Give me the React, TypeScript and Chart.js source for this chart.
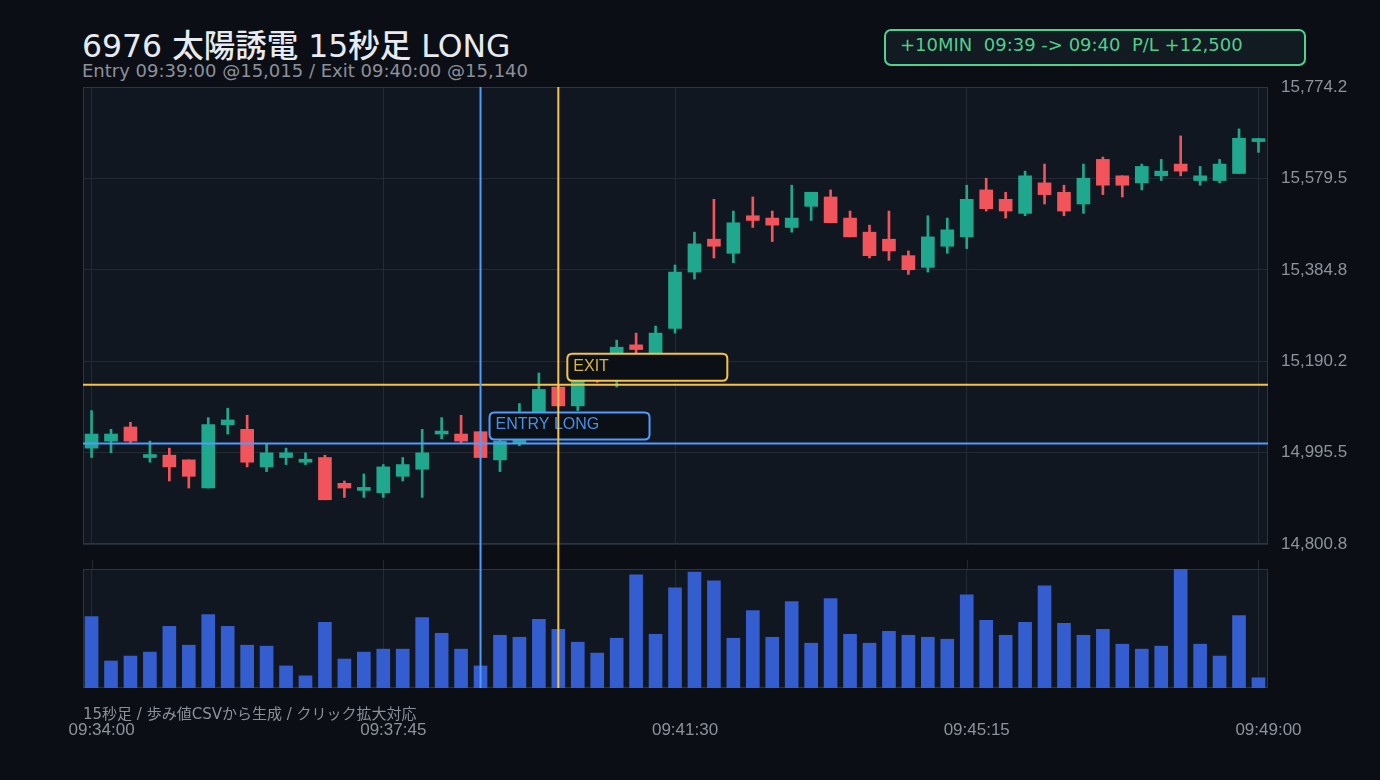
import React, { useEffect, useRef } from "react";
import { Chart, registerables } from "chart.js";

Chart.register(...registerables);

// ---------- data ----------
const TIME_LABELS = ["09:34:00", "09:37:45", "09:41:30", "09:45:15", "09:49:00"];
const TIME_TICK_INDEX = [0, 15, 30, 45, 60];

const OPEN = [
  15005, 15020, 15050, 14985, 14990, 14980, 14920, 15055, 15045, 14965,
  14985, 14975, 14985, 14930, 14915, 14910, 14945, 14960, 15035, 15035,
  15040, 14980, 15015, 15080, 15135, 15095, 15165, 15205, 15225, 15205,
  15260, 15380, 15450, 15420, 15500, 15495, 15475, 15520, 15540, 15495,
  15465, 15450, 15415, 15390, 15435, 15455, 15555, 15535, 15505, 15570,
  15550, 15525, 15620, 15585, 15570, 15585, 15610, 15575, 15575, 15590,
  15658,
];
const HIGH = [
  15085, 15045, 15060, 15020, 15005, 14980, 15070, 15090, 15075, 15015,
  15005, 14995, 14990, 14935, 14950, 14970, 14985, 15045, 15070, 15075,
  15040, 15030, 15100, 15165, 15140, 15165, 15185, 15235, 15250, 15265,
  15395, 15465, 15535, 15510, 15540, 15510, 15565, 15550, 15555, 15510,
  15480, 15510, 15425, 15500, 15495, 15565, 15580, 15550, 15595, 15610,
  15565, 15610, 15625, 15585, 15610, 15620, 15670, 15605, 15620, 15685,
  15665,
];
const LOW = [
  14985, 14995, 15015, 14975, 14935, 14920, 14920, 15035, 14965, 14955,
  14970, 14970, 14895, 14900, 14900, 14900, 14935, 14900, 15025, 15015,
  14985, 14955, 15010, 15075, 15095, 15085, 15145, 15135, 15205, 15200,
  15250, 15365, 15410, 15400, 15475, 15445, 15465, 15490, 15485, 15455,
  15410, 15405, 15375, 15380, 15420, 15430, 15510, 15495, 15500, 15525,
  15500, 15505, 15545, 15540, 15555, 15575, 15585, 15565, 15570, 15590,
  15635,
];
const CLOSE = [
  15035, 15035, 15020, 14990, 14965, 14945, 15055, 15065, 14975, 14995,
  14995, 14980, 14895, 14920, 14920, 14965, 14970, 14995, 15040, 15020,
  14985, 15020, 15070, 15130, 15095, 15150, 15155, 15220, 15215, 15250,
  15380, 15440, 15435, 15485, 15490, 15480, 15495, 15550, 15485, 15455,
  15415, 15425, 15385, 15455, 15470, 15535, 15515, 15510, 15585, 15545,
  15510, 15580, 15565, 15565, 15605, 15595, 15595, 15585, 15610, 15665,
  15664,
];
const VOLUME = [
  7230, 2730, 3230, 3630, 6230, 4330, 7430, 6230, 4330, 4230,
  2230, 1230, 6630, 2930, 3630, 3930, 3930, 7130, 5530, 3930,
  2230, 5330, 5130, 6930, 5930, 4630, 3530, 5030, 11430, 5430,
  10130, 11730, 10830, 5030, 7830, 5130, 8730, 4530, 9030, 5430,
  4530, 5730, 5330, 5130, 4930, 9430, 6830, 5330, 6630, 10330,
  6530, 5330, 5930, 4430, 3930, 4230, 12030, 4430, 3230, 7330,
  1030,
];
const PRICE_TICKS = [14800.8, 14995.5, 15190.2, 15384.8, 15579.5, 15774.2];

const ENTRY_INDEX = 20;
const ENTRY_PRICE = 15015;
const EXIT_INDEX = 24;
const EXIT_PRICE = 15140;

// ---------- styles ----------
const PAGE_BG = "#0b0e14";
const PLOT_BG = "#111720";
const GRID = "#232a34";
const BORDER = "#2d343f";
const GREEN = "#1fa88e";
const RED = "#f2545b";
const VOL_COLOR = "#345ecf";
const BLUE = "#4f9cff";
const YELLOW = "#f6c445";
const TICK_COLOR = "#8d939c";
const X_MIN = -0.44;
const X_MAX = 60.49;
const TICK_FONT = { family: "'Helvetica Neue', Helvetica, Arial, sans-serif", size: 17 };

const fmtPrice = (v: number) =>
  v.toLocaleString("en-US", { minimumFractionDigits: 1, maximumFractionDigits: 1 });

function roundRect(ctx: CanvasRenderingContext2D, x: number, y: number, w: number, h: number, r: number) {
  ctx.beginPath();
  ctx.moveTo(x + r, y);
  ctx.lineTo(x + w - r, y);
  ctx.quadraticCurveTo(x + w, y, x + w, y + r);
  ctx.lineTo(x + w, y + h - r);
  ctx.quadraticCurveTo(x + w, y + h, x + w - r, y + h);
  ctx.lineTo(x + r, y + h);
  ctx.quadraticCurveTo(x, y + h, x, y + h - r);
  ctx.lineTo(x, y + r);
  ctx.quadraticCurveTo(x, y, x + r, y);
  ctx.closePath();
}

const paneBgPlugin = {
  id: "paneBg",
  beforeDraw(chart: any) {
    const { ctx, chartArea: a } = chart;
    ctx.save();
    ctx.fillStyle = PLOT_BG;
    ctx.fillRect(a.left, a.top, a.right - a.left, a.bottom - a.top);
    ctx.restore();
  },
  beforeDatasetsDraw(chart: any) {
    const { ctx, chartArea: a } = chart;
    ctx.save();
    ctx.strokeStyle = BORDER;
    ctx.lineWidth = 1;
    ctx.strokeRect(a.left + 0.5, a.top + 0.5, a.right - a.left - 1, a.bottom - a.top - 1);
    ctx.restore();
  },
};

function drawVLine(ctx: CanvasRenderingContext2D, x: number, y0: number, y1: number, color: string) {
  ctx.save();
  ctx.strokeStyle = color;
  ctx.lineWidth = 2;
  ctx.beginPath();
  ctx.moveTo(x, y0);
  ctx.lineTo(x, y1);
  ctx.stroke();
  ctx.restore();
}

const tradePricePlugin = {
  id: "tradePrice",
  afterDatasetsDraw(chart: any) {
    const { ctx, chartArea: a, scales } = chart;
    const xs = scales.x;
    const ys = scales.y;
    const ex = xs.getPixelForValue(ENTRY_INDEX);
    const ey = ys.getPixelForValue(ENTRY_PRICE);
    const xx = xs.getPixelForValue(EXIT_INDEX);
    const xy = ys.getPixelForValue(EXIT_PRICE);

    // short grid marks just above the volume pane
    ctx.save();
    ctx.strokeStyle = GRID;
    ctx.lineWidth = 1;
    TIME_TICK_INDEX.forEach((t) => {
      const px = Math.round(xs.getPixelForValue(t)) + 0.5;
      ctx.beginPath();
      ctx.moveTo(px, chart.height - 9);
      ctx.lineTo(px, chart.height);
      ctx.stroke();
    });
    ctx.restore();

    const drawBox = (x: number, y: number, text: string, color: string, textColor: string) => {
      const w = 160;
      const h = 27;
      const bx = x + 9;
      const by = y - 4 - h;
      ctx.save();
      roundRect(ctx, bx, by, w, h, 5);
      ctx.fillStyle = "#0b0f16";
      ctx.fill();
      ctx.lineWidth = 2;
      ctx.strokeStyle = color;
      ctx.stroke();
      ctx.fillStyle = textColor;
      ctx.font = "16px 'Helvetica Neue', Helvetica, Arial, sans-serif";
      ctx.textBaseline = "middle";
      ctx.textAlign = "left";
      ctx.fillText(text, bx + 6, by + h / 2 - 1);
      ctx.restore();
    };
    drawBox(ex, ey, "ENTRY LONG", BLUE, "#4a8fe6");
    drawBox(xx, xy, "EXIT", YELLOW, "#d9b443");

    ctx.save();
    ctx.lineWidth = 2;
    ctx.strokeStyle = BLUE;
    ctx.beginPath();
    ctx.moveTo(a.left, ey);
    ctx.lineTo(a.right, ey);
    ctx.stroke();
    ctx.strokeStyle = YELLOW;
    ctx.beginPath();
    ctx.moveTo(a.left, xy);
    ctx.lineTo(a.right, xy);
    ctx.stroke();
    ctx.restore();

    drawVLine(ctx, ex, a.top, chart.height, BLUE);
    drawVLine(ctx, xx, a.top, chart.height, YELLOW);
  },
};

const tradeVolPlugin = {
  id: "tradeVol",
  afterDatasetsDraw(chart: any) {
    const { ctx, chartArea: a, scales } = chart;
    const ex = scales.x.getPixelForValue(ENTRY_INDEX);
    const xx = scales.x.getPixelForValue(EXIT_INDEX);
    drawVLine(ctx, ex, 0, a.bottom, BLUE);
    drawVLine(ctx, xx, 0, a.bottom, YELLOW);
  },
};

const setTimeTicks = (scale: any) => {
  scale.ticks = TIME_TICK_INDEX.map((v) => ({ value: v }));
};

export default function App() {
  const priceRef = useRef<HTMLCanvasElement | null>(null);
  const volRef = useRef<HTMLCanvasElement | null>(null);

  useEffect(() => {
    document.body.style.margin = "0";
    document.body.style.background = PAGE_BG;
    const idx = OPEN.map((_, i) => i);
    const colors = idx.map((i) => (CLOSE[i] >= OPEN[i] ? GREEN : RED));

    const price = new Chart(priceRef.current as HTMLCanvasElement, {
      type: "bar",
      data: {
        datasets: [
          {
            label: "body",
            data: idx.map((i) => ({ x: i, y: [OPEN[i], CLOSE[i]] })) as any,
            backgroundColor: colors,
            borderWidth: 0,
            barThickness: 13,
            minBarLength: 3,
            grouped: false,
            order: 1,
          } as any,
          {
            label: "wick",
            data: idx.map((i) => ({ x: i, y: [LOW[i], HIGH[i]] })) as any,
            backgroundColor: colors,
            borderWidth: 0,
            barThickness: 2,
            grouped: false,
            order: 2,
          } as any,
        ],
      },
      options: {
        animation: false,
        responsive: false,
        events: [],
        layout: { padding: { left: 83, top: 87, right: 0, bottom: 25 } },
        plugins: { legend: { display: false }, tooltip: { enabled: false } },
        scales: {
          x: {
            type: "linear",
            offset: false,
            min: X_MIN,
            max: X_MAX,
            afterBuildTicks: setTimeTicks,
            ticks: { display: false },
            grid: { color: GRID, drawTicks: false, offset: false },
            border: { display: false },
            afterFit: (s: any) => {
              s.height = 0;
            },
          },
          y: {
            type: "linear",
            position: "right",
            min: PRICE_TICKS[0],
            max: PRICE_TICKS[PRICE_TICKS.length - 1],
            afterBuildTicks: (s: any) => {
              s.ticks = PRICE_TICKS.map((v) => ({ value: v }));
            },
            ticks: {
              color: TICK_COLOR,
              font: TICK_FONT,
              padding: 13,
              callback: (v: any) => fmtPrice(Number(v)),
            },
            grid: { color: GRID, drawTicks: false },
            border: { display: false },
            afterFit: (s: any) => {
              s.width = 112;
            },
          },
        },
      } as any,
      plugins: [paneBgPlugin, tradePricePlugin],
    });

    const vol = new Chart(volRef.current as HTMLCanvasElement, {
      type: "bar",
      data: {
        datasets: [
          {
            label: "volume",
            data: idx.map((i) => ({ x: i, y: VOLUME[i] })) as any,
            backgroundColor: VOL_COLOR,
            borderWidth: 0,
            barThickness: 13,
          } as any,
        ],
      },
      options: {
        animation: false,
        responsive: false,
        events: [],
        layout: { padding: { left: 83, top: 0, right: 112, bottom: 0 } },
        plugins: { legend: { display: false }, tooltip: { enabled: false } },
        scales: {
          x: {
            type: "linear",
            offset: false,
            min: X_MIN,
            max: X_MAX,
            afterBuildTicks: setTimeTicks,
            ticks: {
              color: TICK_COLOR,
              font: TICK_FONT,
              padding: 32,
              labelOffset: 10,
              maxRotation: 0,
              autoSkip: false,
              callback: (v: any) => TIME_LABELS[TIME_TICK_INDEX.indexOf(Number(v))] ?? "",
            },
            grid: { color: GRID, drawTicks: false, offset: false },
            border: { display: false },
            afterFit: (s: any) => {
              s.height = 92;
            },
          },
          y: {
            display: false,
            min: 0,
            max: Math.max(...VOLUME),
          },
        },
      } as any,
      plugins: [paneBgPlugin, tradeVolPlugin],
    });

    return () => {
      price.destroy();
      vol.destroy();
    };
  }, []);

  const sans = "'DejaVu Sans', 'Noto Sans CJK JP', sans-serif";

  return (
    <div
      style={{
        position: "fixed",
        left: 0,
        top: 0,
        width: 1380,
        height: 780,
        background: PAGE_BG,
        overflow: "hidden",
        fontFamily: sans,
      }}
    >
      <div
        style={{
          position: "absolute",
          left: 82,
          top: 26.5,
          fontSize: 31.5,
          fontWeight: 500,
          lineHeight: "38px",
          color: "#e7eaf0",
          whiteSpace: "nowrap",
        }}
      >
        6976 太陽誘電 15秒足 LONG
      </div>
      <div
        style={{
          position: "absolute",
          left: 82,
          top: 59.5,
          fontSize: 18,
          lineHeight: "22px",
          color: "#8b919b",
          whiteSpace: "nowrap",
        }}
      >
        Entry 09:39:00 @15,015 / Exit 09:40:00 @15,140
      </div>
      <div
        style={{
          position: "absolute",
          left: 884,
          top: 29,
          width: 422,
          height: 37,
          boxSizing: "border-box",
          border: "2px solid #4fd28c",
          borderRadius: 7,
          background: "#121a22",
          paddingLeft: 14,
          fontSize: 18,
          lineHeight: "28px",
          color: "#52cd8a",
          whiteSpace: "pre",
        }}
      >
        {"+10MIN  09:39 -> 09:40  P/L +12,500"}
      </div>
      <canvas
        ref={priceRef}
        width={1380}
        height={569}
        style={{ position: "absolute", left: 0, top: 0, width: 1380, height: 569 }}
      />
      <canvas
        ref={volRef}
        width={1380}
        height={211}
        style={{ position: "absolute", left: 0, top: 569, width: 1380, height: 211 }}
      />
      <div
        style={{
          position: "absolute",
          left: 83,
          top: 705,
          fontSize: 15,
          lineHeight: "18px",
          color: "#8b919b",
          whiteSpace: "nowrap",
        }}
      >
        15秒足 / 歩み値CSVから生成 / クリック拡大対応
      </div>
    </div>
  );
}
